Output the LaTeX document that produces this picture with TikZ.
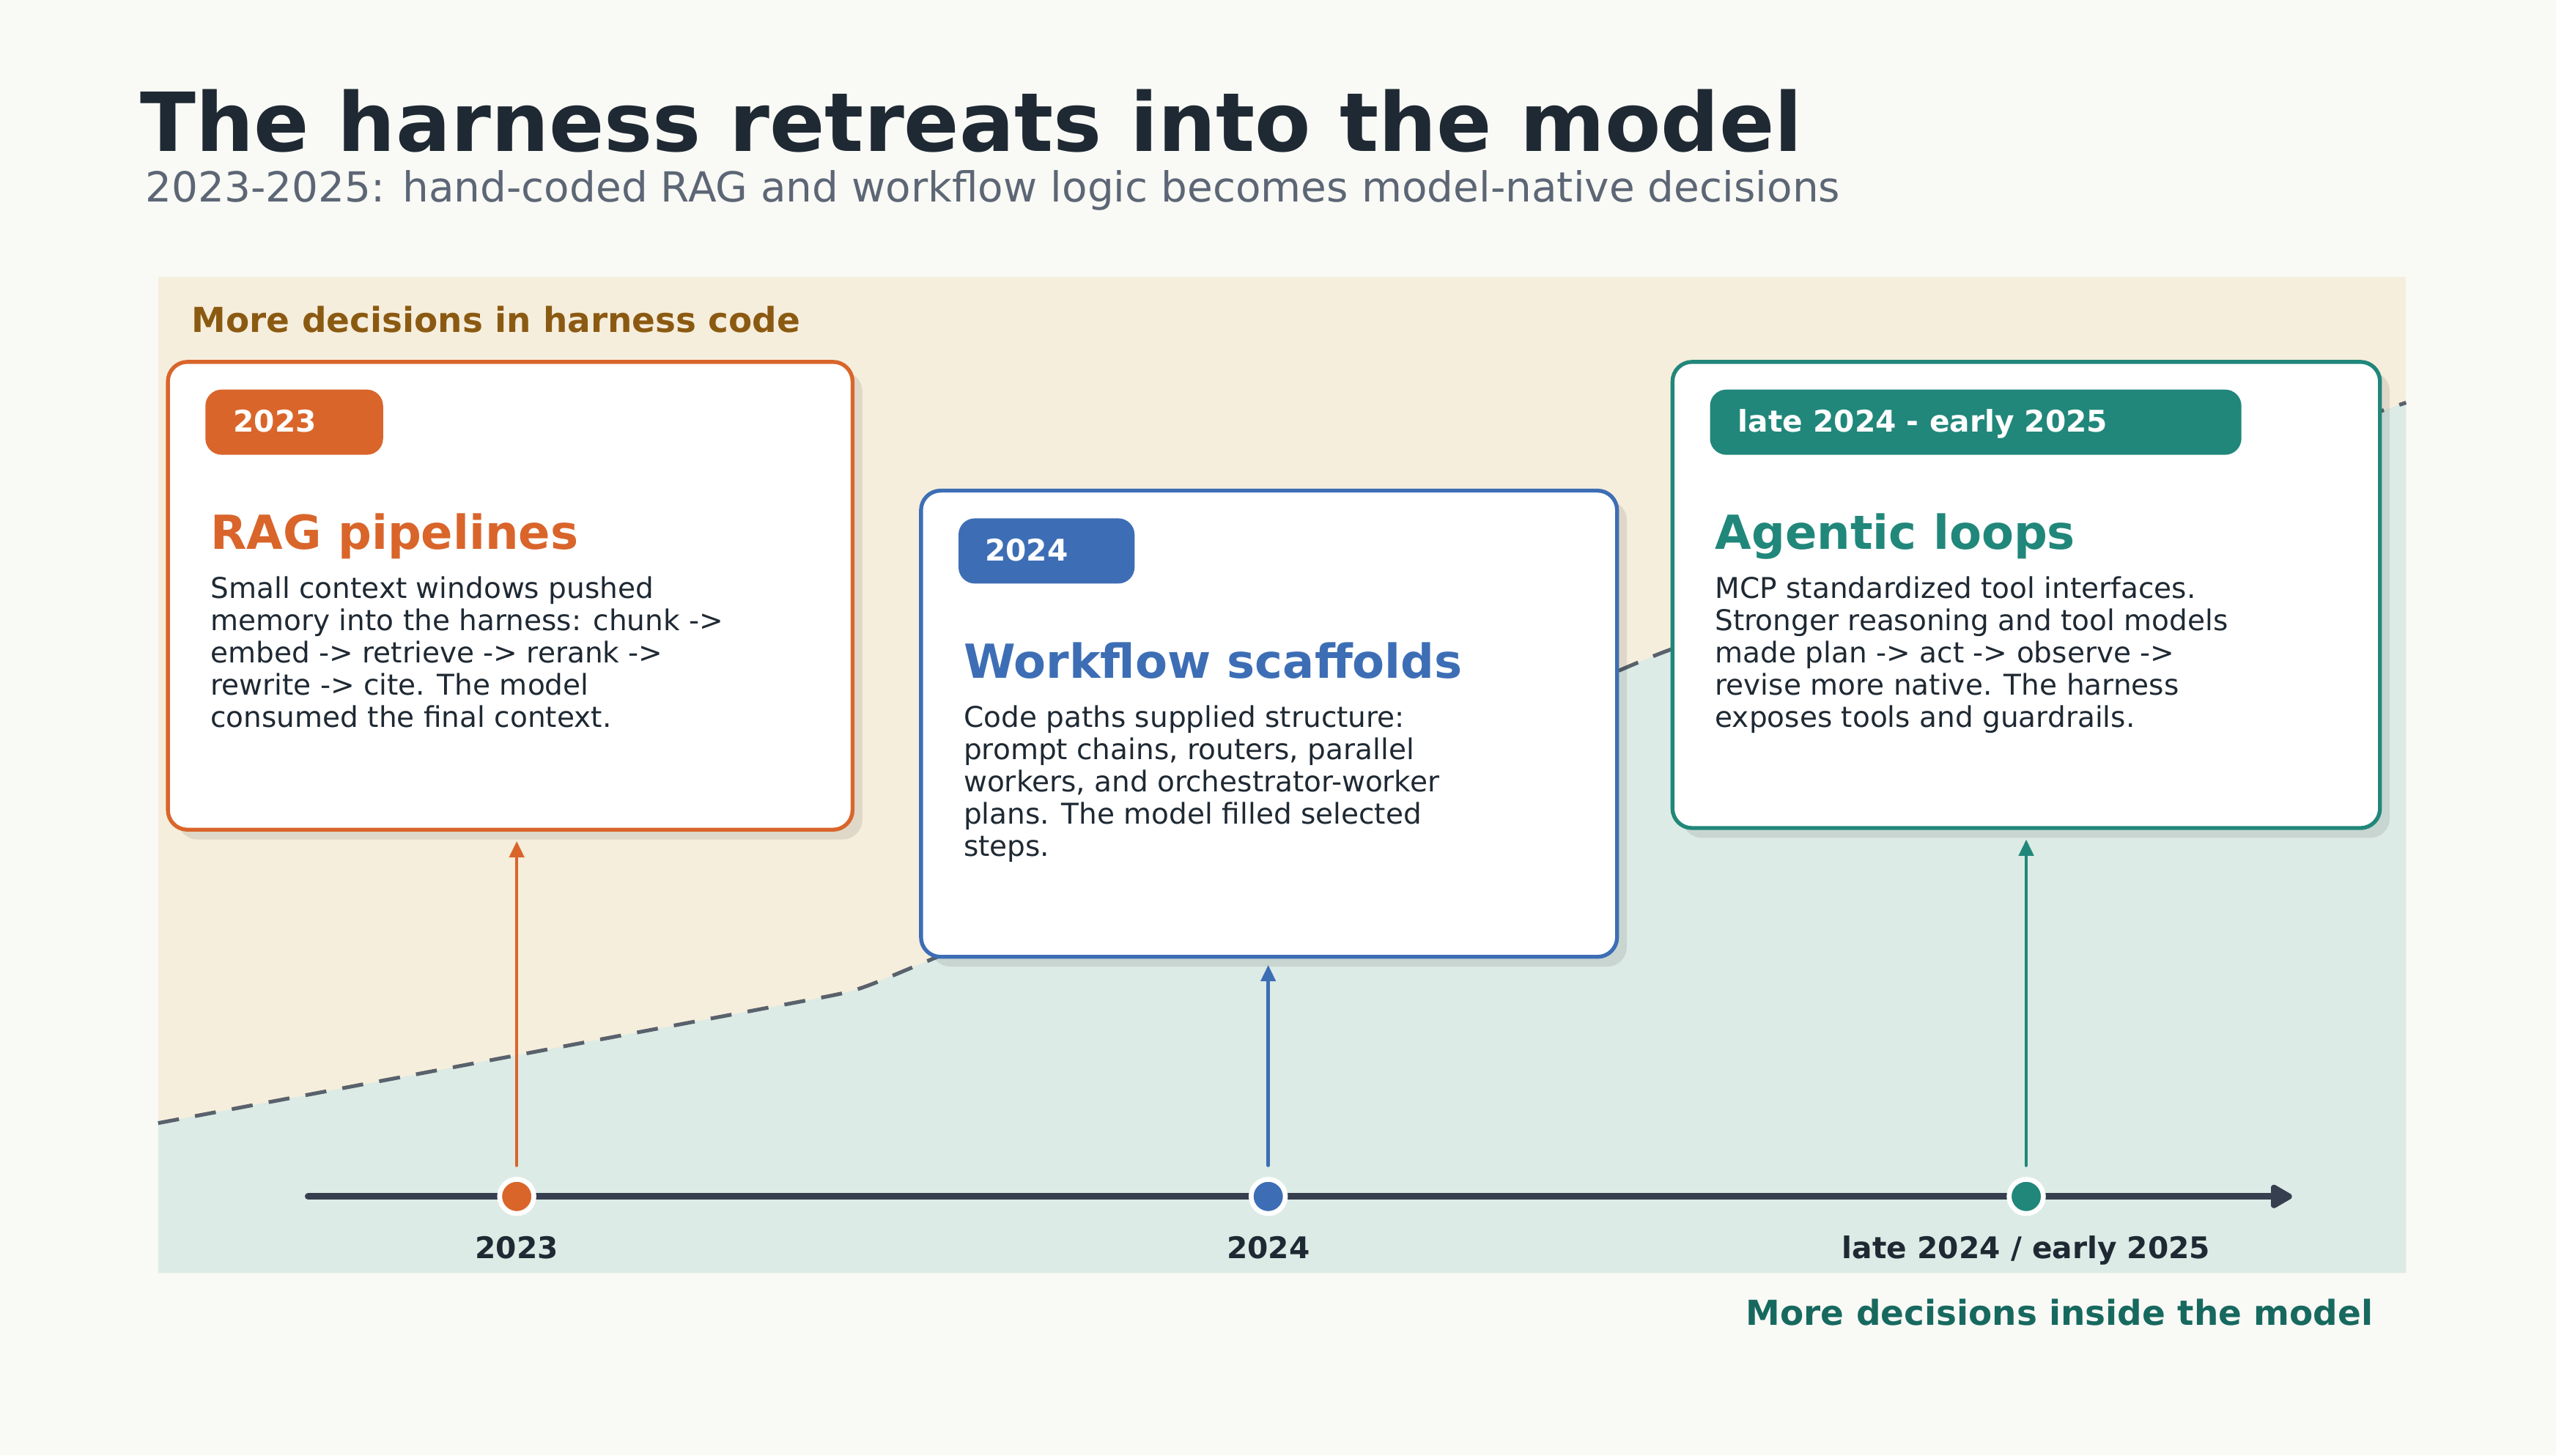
\documentclass[tikz,border=0pt]{standalone}
\usepackage{fontspec}
\setmainfont{DejaVu Sans}
\usetikzlibrary{arrows.meta,shadows}
\definecolor{bgC}{HTML}{F9F9F5}
\definecolor{beigeC}{HTML}{F6EEDC}
\definecolor{mintC}{HTML}{DCEBE5}
\definecolor{orangeC}{HTML}{D9652B}
\definecolor{blueC}{HTML}{3D6EB5}
\definecolor{tealC}{HTML}{21877A}
\definecolor{darkC}{HTML}{1F2933}
\definecolor{subC}{HTML}{5C6675}
\definecolor{brownC}{HTML}{8B5A12}
\definecolor{botC}{HTML}{17695F}
\definecolor{axisC}{HTML}{363F4F}
\definecolor{dashC}{HTML}{59616C}
\newcommand{\fsz}[2]{\fontsize{#1}{#2}\selectfont}
\tikzset{
  card/.style={draw=#1, line width=2.4pt, fill=white, rounded corners=12pt,
    anchor=north west, inner sep=0pt, outer sep=0pt,
    drop shadow={shadow xshift=6pt, shadow yshift=-6pt, opacity=0.09, fill=black}},
  badge/.style={fill=#1, rounded corners=10pt, anchor=north west, inner sep=0pt,
    outer sep=0pt, minimum height=40pt},
  badgetext/.style={anchor=base west, inner sep=0pt, text=white, font=\fsz{18.3}{22}\bfseries},
  cardtitle/.style={anchor=base west, inner sep=0pt, text=#1, font=\fsz{28.8}{34}\bfseries},
  cardbody/.style={anchor=base west, inner sep=0pt, text=darkC, font=\fsz{17.55}{19.8}},
  dot/.style={circle, fill=#1, draw=white, line width=3pt, minimum size=21pt,
    inner sep=0pt, outer sep=0pt},
  conn/.style={draw=#1, line width=2pt, line cap=round, -{Triangle[length=10pt,width=9pt]}},
  axisline/.style={draw=axisC, line width=4pt, line cap=round,
    -{Triangle[round,length=15pt,width=16pt]}},
  axlabel/.style={anchor=base, inner sep=0pt, text=darkC, font=\fsz{18.3}{22}\bfseries},
}
\begin{document}
\begin{tikzpicture}[x=1pt,y=-1pt]
\useasboundingbox (0,0) rectangle (1568,893);
\fill[bgC] (0,0) rectangle (1568,893);
% panel
\fill[beigeC] (97,170) rectangle (1476,781);
\fill[mintC] (97,689) -- (495,613.7) .. controls (525,608) .. (552,596.7)
  -- (995,410.6) .. controls (1020,400) .. (1045,391.6) -- (1476,247)
  -- (1476,781) -- (97,781) -- cycle;
\draw[dashC, line width=2.3pt, dash pattern=on 13pt off 10pt]
  (97,689) -- (495,613.7) .. controls (525,608) .. (552,596.7)
  -- (995,410.6) .. controls (1020,400) .. (1045,391.6) -- (1476,247);
% titles
\node[anchor=base west, inner sep=0pt, text=darkC, font=\fsz{50}{60}\bfseries]
  (title) at (86,93) {The harness retreats into the model};
\node[anchor=base west, inner sep=0pt, text=subC, font=\fsz{25.4}{30}]
  (subtitle) at (89,124) {2023-2025: hand-coded RAG and workflow logic becomes model-native decisions};
\node[anchor=base west, inner sep=0pt, text=brownC, font=\fsz{21.1}{25}\bfseries]
  (toplabel) at (117.5,204) {More decisions in harness code};
\node[anchor=base east, inner sep=0pt, text=botC, font=\fsz{21.1}{25}\bfseries]
  (botlabel) at (1456,813) {More decisions inside the model};
% axis
\coordinate (ax0) at (189,734);
\coordinate (ax1) at (1406,734);
\draw[axisline] (ax0) -- (ax1);
% cards
\node[card=orangeC, minimum width=420pt, minimum height=287pt] (c1) at (103,222) {};
\node[card=blueC, minimum width=427pt, minimum height=286pt] (c2) at (565,301) {};
\node[card=tealC, minimum width=434pt, minimum height=286pt] (c3) at (1026,222) {};
% badges
\node[badge=orangeC, minimum width=109pt] (b1) at (126,239) {};
\node[badge=blueC, minimum width=108pt] (b2) at (588,318) {};
\node[badge=tealC, minimum width=326pt] (b3) at (1049,239) {};
\node[badgetext] (bt1) at (143,265) {2023};
\node[badgetext] (bt2) at (604,344) {2024};
\node[badgetext] (bt3) at (1066,265) {late 2024 - early 2025};
% card titles
\node[cardtitle=orangeC] (t1) at (129,337) {RAG pipelines};
\node[cardtitle=blueC] (t2) at (591,416) {Workflow scaffolds};
\node[cardtitle=tealC] (t3) at (1052,337) {Agentic loops};
% card bodies
\node[cardbody] (p1) at (129,367) {\parbox[t]{380pt}{\raggedright
  Small context windows pushed\\
  memory into the harness: chunk ->\\
  embed -> retrieve -> rerank ->\\
  rewrite -> cite. The model\\
  consumed the final context.}};
\node[cardbody] (p2) at (591,446) {\parbox[t]{380pt}{\raggedright
  Code paths supplied structure:\\
  prompt chains, routers, parallel\\
  workers, and orchestrator-worker\\
  plans. The model filled selected\\
  steps.}};
\node[cardbody] (p3) at (1052,367) {\parbox[t]{380pt}{\raggedright
  MCP standardized tool interfaces.\\
  Stronger reasoning and tool models\\
  made plan -> act -> observe ->\\
  revise more native. The harness\\
  exposes tools and guardrails.}};
% dots
\node[dot=orangeC] (d1) at (317,734) {};
\node[dot=blueC] (d2) at (778,734) {};
\node[dot=tealC] (d3) at (1243,734) {};
% connectors
\draw[conn=orangeC] ([yshift=8.5pt]d1.north) -- ([yshift=-7pt]d1 |- c1.south);
\draw[conn=blueC] ([yshift=8.5pt]d2.north) -- ([yshift=-5pt]d2 |- c2.south);
\draw[conn=tealC] ([yshift=8.5pt]d3.north) -- ([yshift=-7pt]d3 |- c3.south);
% axis labels
\node[axlabel] (l1) at (317,772) {2023};
\node[axlabel] (l2) at (778,772) {2024};
\node[axlabel] (l3) at (1243,772) {late 2024 / early 2025};
\end{tikzpicture}
\end{document}
